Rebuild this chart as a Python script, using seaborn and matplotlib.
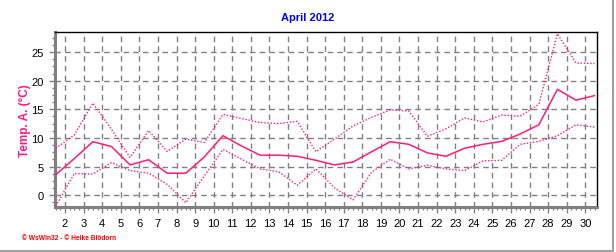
import matplotlib
matplotlib.use("Agg")
import matplotlib.pyplot as plt
import seaborn as sns
import numpy as np
import pandas as pd
from matplotlib.ticker import MultipleLocator, FixedLocator
from matplotlib.lines import Line2D

days = list(range(1, 31))
temp_mean = [3.6, 6.4, 9.35, 8.5, 5.3, 6.2, 3.85, 3.85, 6.7, 10.4,
             8.6, 7.0, 7.0, 6.8, 6.1, 5.3, 5.8, 7.6, 9.35, 8.9,
             7.4, 6.8, 8.2, 8.9, 9.4, 10.7, 12.3, 18.5, 16.6, 17.4]
temp_max = [8.2, 10.5, 16.1, 11.5, 6.6, 11.3, 7.65, 9.8, 9.2, 14.1,
            13.4, 12.7, 12.5, 12.9, 7.6, 9.8, 12.1, 13.6, 14.9, 14.7,
            10.3, 11.6, 13.5, 12.8, 14.0, 13.8, 15.9, 28.2, 23.1, 23.0]
temp_min = [-1.9, 3.8, 3.7, 5.7, 4.3, 3.85, 1.9, -1.3, 3.4, 8.0,
            6.3, 4.6, 4.1, 1.75, 4.6, 1.3, -0.8, 4.0, 6.3, 4.6,
            5.25, 4.6, 4.3, 6.0, 6.1, 8.9, 9.4, 10.4, 12.3, 11.9]
y_ticks = [0, 5, 10, 15, 20, 25]
x_ticks = list(range(2, 31))
title = "April 2012"
ylabel = "Temp. A. (°C)"
footer = "© WsWin32 - © Heike Blödorn"

sns.set_style("white")
plt.rcParams['font.family'] = ['Liberation Sans', 'DejaVu Sans']

df = pd.DataFrame({"pos": np.array(days) + 0.5, "mean": temp_mean,
                   "max": temp_max, "min": temp_min})

fig = plt.figure(figsize=(6.16, 2.53), dpi=100)
ax = fig.add_axes([55/616, 1-208/253, (597-55)/616, (208-33)/253])

col = "#FF1A80"
sns.lineplot(data=df, x="pos", y="mean", ax=ax, color=col, lw=1.1, zorder=4)
sns.lineplot(data=df, x="pos", y="max", ax=ax, color=col, lw=1.0,
             linestyle=(0, (1, 1.3)), zorder=4)
sns.lineplot(data=df, x="pos", y="min", ax=ax, color=col, lw=1.0,
             linestyle=(0, (1, 1.3)), zorder=4)

ax.set_xlim(1.46, 30.63)
ax.set_ylim(-2.05, 28.5)
ax.xaxis.set_major_locator(FixedLocator(x_ticks))
ax.set_xticklabels([str(t) for t in x_ticks])
ax.xaxis.set_minor_locator(MultipleLocator(0.25))
ax.yaxis.set_major_locator(FixedLocator(y_ticks))
ax.yaxis.set_minor_locator(MultipleLocator(1.25))
ax.set_xlabel("")
ax.set_ylabel("")

ax.grid(True, which="major", color="#808080", linestyle=(0, (4, 3)), lw=1.0)
ax.set_axisbelow(True)

for s in ["left", "bottom"]:
    ax.spines[s].set_color("#808080")
    ax.spines[s].set_linewidth(2.2)
for s in ["top", "right"]:
    ax.spines[s].set_color("black")
    ax.spines[s].set_linewidth(1.0)

ax.tick_params(axis="both", which="major", direction="out", length=4,
               width=1, color="#808080", labelsize=8, labelcolor="black",
               left=True, bottom=True)
ax.tick_params(axis="both", which="minor", direction="out", length=2,
               width=1, color="#808080", left=True, bottom=True)
ax.tick_params(axis="x", which="major", pad=4)
ax.tick_params(axis="y", which="major", pad=4)

fig.text(308/616, 1-18/253, title, color="#0000FF", fontsize=8,
         fontweight="bold", ha="center", va="center")
fig.text(25/616, 1-121/253, ylabel, color=col, fontsize=8.5,
         fontweight="bold", ha="center", va="center", rotation=90)
fig.text(22/616, 1-239/253, footer, color="#FF0000", fontsize=4.8,
         fontweight="bold", ha="left", va="center")

fig.add_artist(Line2D([0, 613/616], [1-251.5/253, 1-251.5/253],
                      transform=fig.transFigure, color="#A0A0A0", lw=1.5))
fig.add_artist(Line2D([613/616, 613/616], [1-251.5/253, 1.0],
                      transform=fig.transFigure, color="#A0A0A0", lw=1.5))

fig.savefig("out.png", dpi=100, facecolor="white")
